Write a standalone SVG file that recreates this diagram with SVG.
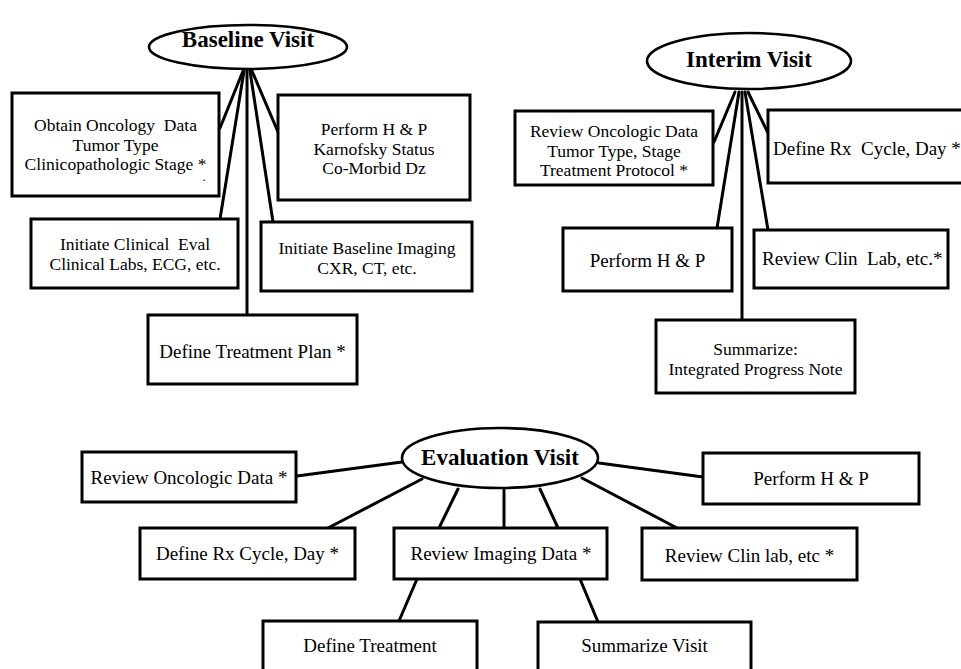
<svg xmlns="http://www.w3.org/2000/svg" width="961" height="669" viewBox="0 0 961 669">
<style>
.bx{fill:#fff;stroke:#000;stroke-width:3}
.el{fill:#fff;stroke:#000;stroke-width:2.6}
.ln{stroke:#000;stroke-width:3;fill:none;stroke-linecap:round}
text{font-family:"Liberation Serif","Times New Roman",serif;font-size:19px;fill:#000;white-space:pre}
.m{font-size:17.5px}
.t{text-anchor:middle}
.h{font-size:23px;font-weight:bold;text-anchor:middle}
</style>
<rect x="0" y="0" width="961" height="669" fill="#fff"/>
<g id="connectors">
<line class="ln" x1="243" y1="71" x2="220" y2="128"/>
<line class="ln" x1="244" y1="71" x2="220" y2="219"/>
<line class="ln" x1="247" y1="71" x2="247" y2="315"/>
<line class="ln" x1="250" y1="71" x2="273" y2="222"/>
<line class="ln" x1="252" y1="71" x2="278" y2="132"/>
<line class="ln" x1="735" y1="92" x2="714" y2="142"/>
<line class="ln" x1="739" y1="92" x2="717" y2="228"/>
<line class="ln" x1="742" y1="92" x2="742" y2="320"/>
<line class="ln" x1="745" y1="92" x2="768" y2="230"/>
<line class="ln" x1="748" y1="92" x2="768" y2="133"/>
<line class="ln" x1="402" y1="462" x2="297" y2="476"/>
<line class="ln" x1="422" y1="479" x2="328" y2="528"/>
<line class="ln" x1="458" y1="489" x2="439" y2="528"/>
<line class="ln" x1="504" y1="490" x2="504" y2="528"/>
<line class="ln" x1="540" y1="489" x2="558" y2="528"/>
<line class="ln" x1="582" y1="478" x2="677" y2="528"/>
<line class="ln" x1="599" y1="463" x2="703" y2="477"/>
<line class="ln" x1="417" y1="579" x2="399" y2="621"/>
<line class="ln" x1="580" y1="579" x2="598" y2="622"/>
</g>
<g id="baseline">
<ellipse class="el" cx="248" cy="47" rx="99" ry="22"/>
<text class="h" x="248" y="47">Baseline Visit</text>
</g>
<g id="obtain-oncology">
<rect class="bx" x="12" y="93" width="207" height="103"/>
<text class="t m" x="115.5" y="131">Obtain Oncology  Data</text>
<text class="t m" x="115.5" y="150.5">Tumor Type</text>
<text class="t m" x="115.5" y="170">Clinicopathologic Stage *<tspan x="203" y="181" font-size="9" font-weight="bold" style="text-anchor:start">.</tspan></text>
</g>
<g id="baseline-hp">
<rect class="bx" x="278" y="95" width="192" height="105"/>
<text class="t m" x="374" y="135">Perform H &amp; P</text>
<text class="t m" x="374" y="154.5">Karnofsky Status</text>
<text class="t m" x="374" y="174">Co-Morbid Dz</text>
</g>
<g id="clinical-eval">
<rect class="bx" x="31" y="219" width="207" height="69"/>
<text class="t m" x="135" y="250">Initiate Clinical  Eval</text>
<text class="t m" x="135" y="269.5">Clinical Labs, ECG, etc.</text>
</g>
<g id="baseline-imaging">
<rect class="bx" x="261" y="222" width="211" height="69"/>
<text class="t m" x="367" y="254">Initiate Baseline Imaging</text>
<text class="t m" x="367" y="273.5">CXR, CT, etc.</text>
</g>
<g id="treatment-plan">
<rect class="bx" x="148" y="315" width="209" height="69"/>
<text class="t" x="252.5" y="358">Define Treatment Plan *</text>
</g>
<g id="interim">
<ellipse class="el" cx="749" cy="61" rx="102" ry="28"/>
<text class="h" x="749" y="67">Interim Visit</text>
</g>
<g id="interim-oncologic">
<rect class="bx" x="515" y="111" width="198" height="74"/>
<text class="t m" x="614" y="137">Review Oncologic Data</text>
<text class="t m" x="614" y="156.5">Tumor Type, Stage</text>
<text class="t m" x="614" y="176">Treatment Protocol *</text>
</g>
<g id="interim-rx">
<rect class="bx" x="768" y="110" width="210" height="73"/>
<text x="773" y="155">Define Rx  Cycle, Day *</text>
</g>
<g id="interim-hp">
<rect class="bx" x="563" y="228" width="169" height="63"/>
<text class="t" x="647.5" y="267">Perform H &amp; P</text>
</g>
<g id="interim-lab">
<rect class="bx" x="754" y="230" width="194" height="58"/>
<text x="762" y="265">Review Clin  Lab, etc.*</text>
</g>
<g id="interim-summary">
<rect class="bx" x="656" y="320" width="199" height="73"/>
<text class="t m" x="755.5" y="355">Summarize:</text>
<text class="t m" x="755.5" y="374.5">Integrated Progress Note</text>
</g>
<g id="evaluation">
<ellipse class="el" cx="500" cy="458" rx="98" ry="30"/>
<text class="h" x="500" y="465">Evaluation Visit</text>
</g>
<g id="eval-oncologic">
<rect class="bx" x="82" y="452" width="214" height="50"/>
<text class="t" x="189" y="484">Review Oncologic Data *</text>
</g>
<g id="eval-rx">
<rect class="bx" x="140" y="528" width="215" height="51"/>
<text class="t" x="247.5" y="560">Define Rx Cycle, Day *</text>
</g>
<g id="eval-imaging">
<rect class="bx" x="394" y="528" width="213" height="51"/>
<text class="t" x="501" y="560">Review Imaging Data *</text>
</g>
<g id="eval-hp">
<rect class="bx" x="703" y="453" width="216" height="51"/>
<text class="t" x="811" y="485">Perform H &amp; P</text>
</g>
<g id="eval-lab">
<rect class="bx" x="642" y="528" width="215" height="52"/>
<text class="t" x="749.5" y="562">Review Clin lab, etc *</text>
</g>
<g id="eval-treatment">
<rect class="bx" x="263" y="621" width="214" height="60"/>
<text class="t" x="370" y="652">Define Treatment</text>
</g>
<g id="eval-summary">
<rect class="bx" x="538" y="622" width="213" height="60"/>
<text class="t" x="644.5" y="652">Summarize Visit</text>
</g>
</svg>
